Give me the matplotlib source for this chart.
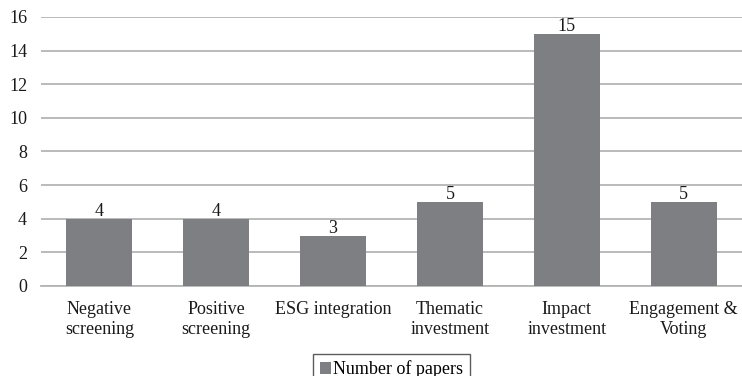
# Bar chart of the number of papers per sustainable investment strategy

import matplotlib.pyplot as plt

categories = ["Negative\nscreening", "Positive\nscreening", "ESG integration",
              "Thematic\ninvestment", "Impact\ninvestment", "Engagement &\nVoting"]
papers = [4, 4, 3, 5, 15, 5]
y_ticks = [0, 2, 4, 6, 8, 10, 12, 14, 16]

plt.rcParams["font.family"] = ["Liberation Serif", "DejaVu Serif"]
FS = 13

fig = plt.figure(figsize=(7.42, 3.76), dpi=100)
ax = fig.add_axes([41 / 742, 1 - 286 / 376, 701 / 742, 269 / 376])

positions = range(len(categories))
ax.bar(positions, papers, width=0.565, color="#7e7f83", zorder=3,
       label="Number of papers")

# value labels sitting on top of each bar
for x, v in zip(positions, papers):
    ax.text(x, v - 0.08, str(v), ha="center", va="bottom", fontsize=FS,
            color="#1a1a1a", zorder=4)

ax.set_xlim(-0.5, len(categories) - 0.5)
ax.set_ylim(0, 16)
ax.set_yticks(y_ticks)
ax.set_xticks(list(positions))
ax.set_xticklabels(categories, fontsize=FS, color="#1a1a1a", linespacing=1.28)
ax.tick_params(axis="y", length=0, pad=10, labelsize=FS, labelcolor="#1a1a1a")
ax.tick_params(axis="x", length=0, pad=10.5)

ax.grid(axis="y", color="#b4b4b4", linewidth=1.3, zorder=0)
for side in ["top", "right", "left"]:
    ax.spines[side].set_visible(False)
ax.spines["bottom"].set_color("#b4b4b4")
ax.spines["bottom"].set_linewidth(1.3)

leg = fig.legend(loc="upper center", bbox_to_anchor=(0.5276, 1 - 354 / 376),
                 ncol=1, fontsize=FS, frameon=True, fancybox=False,
                 handlelength=0.6, handleheight=0.6, handletextpad=0.15,
                 borderpad=0.35, borderaxespad=0)
leg.get_frame().set_edgecolor("#333333")
leg.get_frame().set_linewidth(1.0)

fig.savefig("out.png", dpi=100)
